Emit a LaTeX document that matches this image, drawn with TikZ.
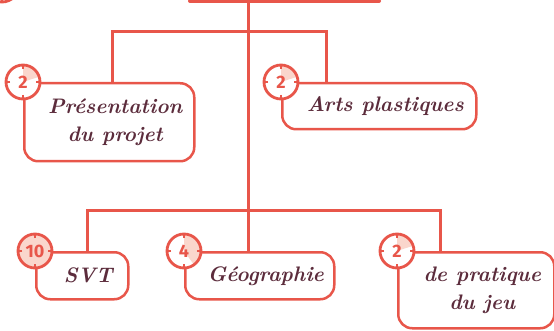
\documentclass[tikz,border=0pt]{standalone}
\usepackage{fontspec}
\newfontfamily\numfont{Fira Sans}
\usetikzlibrary{positioning,calc}
\definecolor{tomato}{HTML}{E8564A}
\definecolor{blush}{HTML}{FAD6CC}
\definecolor{plum}{HTML}{5C2C3C}

\begin{document}
\begin{tikzpicture}[x=1pt,y=-1pt,
    box/.style={draw=tomato,line width=2.5pt,rounded corners=14pt,fill=white,anchor=north west,inner sep=0pt},
    txt/.style={text=plum,font=\fontsize{21}{28}\selectfont\bfseries\itshape,align=center,xshift=6pt},
    badge/.style={circle,draw=tomato,line width=2.8pt,fill=white,minimum size=34pt,inner sep=0pt,
        text=tomato,font=\numfont\bfseries\fontsize{18}{18}\selectfont,
        path picture={
            \fill[blush] (path picture bounding box.center) -- ++(90:20pt) arc[start angle=90,delta angle=-#1,radius=20pt] -- cycle;
            \foreach \a in {0,90,180,270}
                \draw[tomato,line width=1.5pt] (path picture bounding box.center) ++(\a:13pt) -- ++(\a:5pt);
        }},
    wire/.style={draw=tomato,line width=3pt}]
    \useasboundingbox (0,0) rectangle (554,331);

    % trunk and branches
    \coordinate (bar-l) at (190,1);
    \coordinate (bar-r) at (379,1);
    \coordinate (top) at (248,1);
    \coordinate (hub-up) at (248,32);
    \coordinate (hub-low) at (248,211);

    % boxes
    \node[box,minimum width=170pt,minimum height=78pt,label={[txt]center:{Présentation\\du projet}}] (pres) at (23,82) {};
    \node[box,minimum width=194pt,minimum height=46pt,label={[txt]center:Arts plastiques}] (arts) at (281,82) {};
    \node[box,minimum width=92pt,minimum height=47pt,label={[txt]center:SVT}] (svt) at (35,251) {};
    \node[box,minimum width=149pt,minimum height=47pt,label={[txt]center:Géographie}] (geo) at (184,251) {};
    \node[box,minimum width=156pt,minimum height=76pt,label={[txt]center:{de pratique\\du jeu}}] (jeu) at (397,251) {};

    \draw[wire,line width=4pt,line cap=round] (bar-l) -- (bar-r);
    \draw[wire] (top) -- (top |- geo.north);
    \draw[wire] ($(pres.north west)+(89,0)$) |- (hub-up) -| ($(arts.north west)+(45,0)$);
    \draw[wire] ($(svt.north west)+(52,0)$) |- (hub-low) -| ($(jeu.north west)+(43,0)$);

    % durations
    \node[badge=0] (cut-n) at (2,-15) {};
    \node[badge=72] (pres-n) at (pres.north west) {2};
    \node[badge=72] (arts-n) at (arts.north west) {2};
    \node[badge=360] (svt-n) at (svt.north west) {10};
    \node[badge=144] (geo-n) at (geo.north west) {4};
    \node[badge=72] (jeu-n) at (jeu.north west) {2};
\end{tikzpicture}
\end{document}
